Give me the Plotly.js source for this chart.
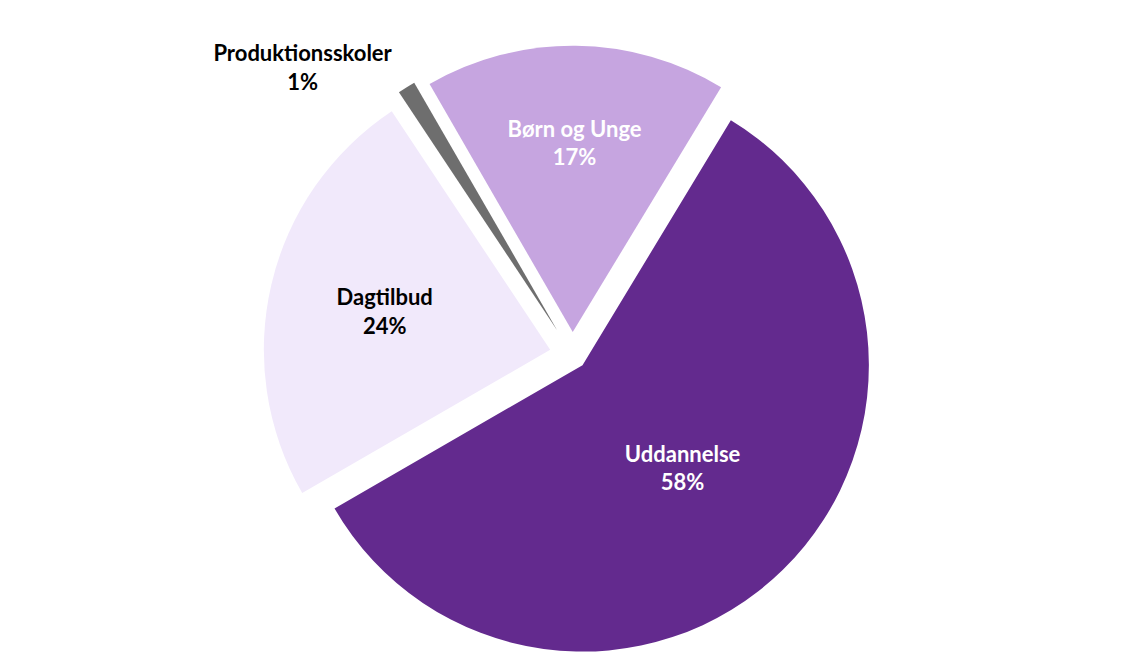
<!DOCTYPE html>
<html>
<head>
<meta charset="utf-8">
<script src="https://cdn.plot.ly/plotly-3.0.1.min.js"></script>
<style>html,body{margin:0;padding:0;background:#fff;}#chart{width:1145px;height:672px;}</style>
</head>
<body>
<div id="chart"></div>
<script>
const categories = ['Børn og Unge', 'Uddannelse', 'Dagtilbud', 'Produktionsskoler'];
const shares = [17, 58, 24, 1];
const sliceColors = ['#C6A5E0', '#632A8E', '#F1E9FB', '#6E6E6E'];
const labelColors = ['#FFFFFF', '#FFFFFF', '#000000', '#000000'];
const labelPositions = ['inside', 'inside', 'inside', 'outside'];

const trace = {
  type: 'pie',
  labels: categories,
  values: shares,
  sort: false,
  direction: 'clockwise',
  rotation: -30,
  pull: [0.08, 0.05, 0.08, 0.1],
  marker: {colors: sliceColors, line: {color: '#ffffff', width: 0}},
  texttemplate: '%{label}<br>%{percent:.0%}',
  textposition: labelPositions,
  insidetextorientation: 'horizontal',
  textfont: {family: 'Lato, "Open Sans", sans-serif', size: 22, color: labelColors, weight: 'bold'},
  outsidetextfont: {family: 'Lato, "Open Sans", sans-serif', size: 22, color: '#000000', weight: 'bold'},
  hoverinfo: 'label+percent',
  showlegend: false
};

const layout = {
  width: 1145,
  height: 672,
  margin: {l: 10, r: 10, t: 40, b: 2},
  paper_bgcolor: '#ffffff',
  plot_bgcolor: '#ffffff',
  showlegend: false
};

Plotly.newPlot('chart', [trace], layout, {displayModeBar: false, staticPlot: true});
</script>
</body>
</html>
